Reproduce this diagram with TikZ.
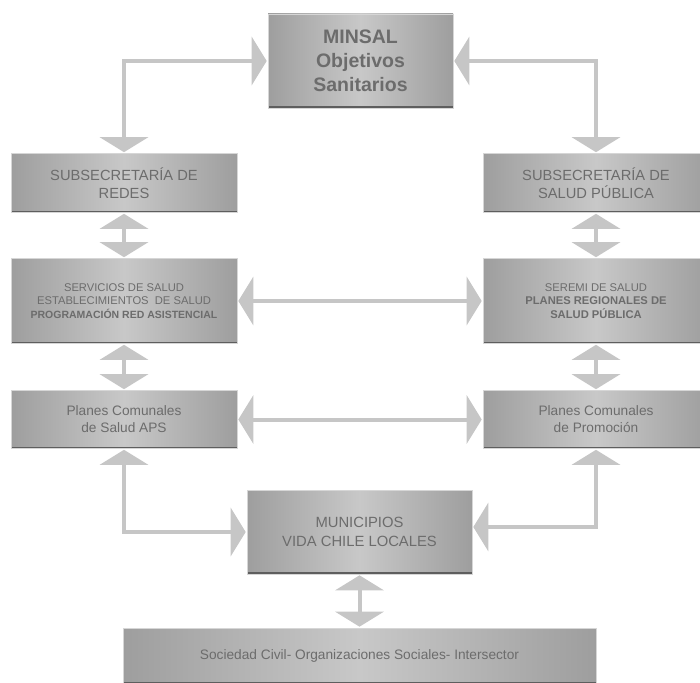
\documentclass[tikz,border=0pt]{standalone}
\usepackage{fontspec}
\setmainfont{Liberation Sans}
\usetikzlibrary{arrows.meta}
\usetikzlibrary{calc}

\definecolor{cajaosc}{HTML}{9E9E9E}
\definecolor{cajaclara}{HTML}{C8C8C8}
\definecolor{borde}{HTML}{D6D6D6}
\definecolor{linea}{HTML}{5E5E5E}
\definecolor{flechagris}{HTML}{C6C6C6}
\definecolor{texto}{HTML}{6C6C6C}

\begin{document}
\begin{tikzpicture}[x=1pt,y=-1pt,
    caja/.style={rectangle,draw=borde,line width=0.6pt,left color=cajaosc,right color=cajaosc,middle color=cajaclara,
      text=texto,align=center,inner sep=0pt,
      path picture={\draw[linea,line width=4pt] (path picture bounding box.south west) -- (path picture bounding box.south east);}},
    flecha/.style={color=flechagris,line width=4pt,>={Triangle[length=15pt,width=48pt]},<->,shorten <=1pt,shorten >=1pt}]

  \useasboundingbox (0,0) rectangle (700,682);

  \node [caja,minimum width=185pt,minimum height=94pt,font=\fontsize{19.5}{24}\selectfont\bfseries] (minsal) at (360.5,61) {MINSAL\\Objetivos\\Sanitarios};

  \node [caja,minimum width=226pt,minimum height=59pt,font=\fontsize{14.7}{18.3}\selectfont] (subredes) at (124,183) {SUBSECRETARÍA DE\\REDES};
  \node [caja,minimum width=226pt,minimum height=59pt,font=\fontsize{14.7}{18.3}\selectfont] (subsalud) at (596,183) {SUBSECRETARÍA DE\\SALUD PÚBLICA};

  \node [caja,minimum width=226pt,minimum height=85pt,font=\fontsize{11.2}{13.5}\selectfont] (servicios) at (124,301)
    {SERVICIOS DE SALUD\\ESTABLECIMIENTOS\ \ DE SALUD\\{\fontsize{10.5}{13.5}\selectfont\bfseries PROGRAMACIÓN RED ASISTENCIAL}};
  \node [caja,minimum width=226pt,minimum height=85pt,font=\fontsize{11.2}{13.5}\selectfont] (seremi) at (596,301)
    {SEREMI DE SALUD\\{\bfseries PLANES REGIONALES DE}\\{\bfseries SALUD PÚBLICA}};

  \node [caja,minimum width=226pt,minimum height=58pt,font=\fontsize{13.7}{17}\selectfont] (aps) at (124,419.5) {Planes Comunales\\de Salud APS};
  \node [caja,minimum width=226pt,minimum height=58pt,font=\fontsize{13.7}{17}\selectfont] (promocion) at (596,419.5) {Planes Comunales\\de Promoción};

  \node [caja,minimum width=225pt,minimum height=84pt,font=\fontsize{14.8}{19}\selectfont] (municipios) at (359.5,532) {MUNICIPIOS\\VIDA CHILE LOCALES};

  \node [caja,minimum width=473pt,minimum height=56pt,font=\fontsize{13.7}{17}\selectfont] (sociedad) at (359.5,656) {Sociedad Civil- Organizaciones Sociales- Intersector};

  \draw [flecha] (minsal.west) -| (subredes.north);
  \draw [flecha] (minsal.east) -| (subsalud.north);
  \draw [flecha] (subredes.south) -- (servicios.north);
  \draw [flecha] (subsalud.south) -- (seremi.north);
  \draw [flecha] (servicios.east) -- (seremi.west);
  \draw [flecha] (servicios.south) -- (aps.north);
  \draw [flecha] (seremi.south) -- (promocion.north);
  \draw [flecha] (aps.east) -- (promocion.west);
  \draw [flecha] (aps.south) |- (municipios.west);
  \draw [flecha] (promocion.south) |- ([yshift=5pt]municipios.east);
  \draw [flecha] (municipios.south) -- (sociedad.north);

\end{tikzpicture}
\end{document}
